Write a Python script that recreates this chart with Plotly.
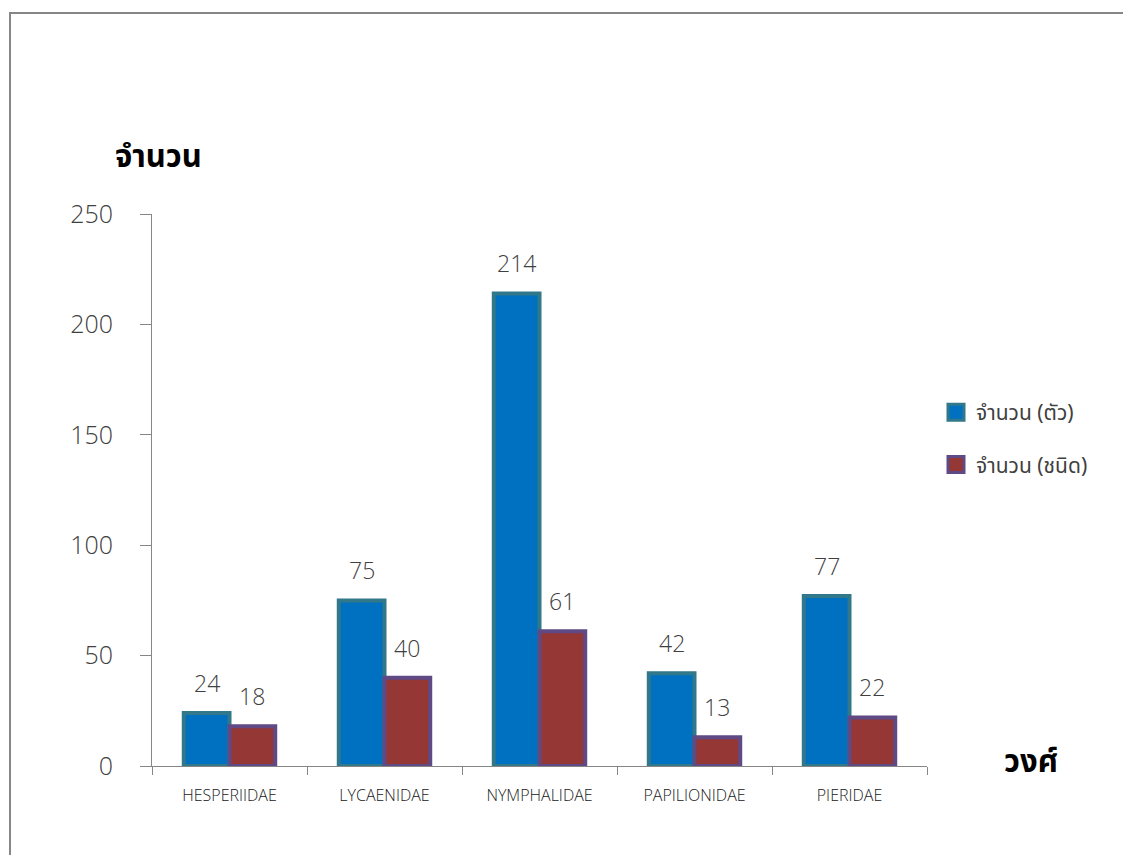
import plotly.graph_objects as go

categories = ["HESPERIIDAE", "LYCAENIDAE", "NYMPHALIDAE", "PAPILIONIDAE", "PIERIDAE"]
count_individuals = [24, 75, 214, 42, 77]
count_species = [18, 40, 61, 13, 22]
series_names = ["จำนวน (ตัว)", "จำนวน (ชนิด)"]
y_ticks = [0, 50, 100, 150, 200, 250]

# page offset from default body margin
OFF = 8
W, H = 1131 - OFF, 855 - OFF
L, R, T, B = 152 - OFF, 204, 214 - OFF, 89
plot_w = W - L - R
plot_h = H - T - B


def px_x(page_x):
    return (page_x - OFF - L) / plot_w


def px_y(page_y):
    return (H - B - (page_y - OFF)) / plot_h


num_font = "Open Sans, DejaVu Sans, sans-serif"
thai_font = "Tahoma, Noto Sans Thai, Loma, Garuda, sans-serif"

fills = ["#0070C0", "#953735"]
edges = ["#31788A", "#5F4A85"]
series_vals = [count_individuals, count_species]

fig = go.Figure()
for i in range(2):
    fig.add_trace(go.Bar(
        x=categories, y=series_vals[i], name=series_names[i],
        marker=dict(color=fills[i], line=dict(color=edges[i], width=4)),
        showlegend=False,
    ))
# legend entries (larger square swatches)
for i in range(2):
    fig.add_trace(go.Scatter(
        x=[None], y=[None], mode="markers", name=series_names[i],
        marker=dict(symbol="square", size=16, color=fills[i], line=dict(color=edges[i], width=3)),
        legendgroup=f"g{i}", showlegend=True,
    ))

bargap = 0.41
bar_px = plot_w / len(categories) * (1 - bargap) / 2
for vals, sign in ((count_individuals, -1), (count_species, 1)):
    for c, v in zip(categories, vals):
        fig.add_annotation(
            x=c, y=v, xref="x", yref="y", text=str(v), showarrow=False,
            xshift=sign * bar_px / 2, yshift=12, yanchor="bottom",
            font=dict(family=num_font, size=23, color="#404040", weight=300),
        )

fig.add_annotation(x=px_x(113), y=px_y(157), xref="paper", yref="paper",
                   text="<b>จำนวน</b>", showarrow=False, xanchor="left", yanchor="middle",
                   font=dict(family=thai_font, size=31, color="#000000"))
fig.add_annotation(x=px_x(1002), y=px_y(762), xref="paper", yref="paper",
                   text="<b>วงศ์</b>", showarrow=False, xanchor="left", yanchor="middle",
                   font=dict(family=thai_font, size=31, color="#000000"))

# outer frame
fig.add_shape(type="rect", xref="paper", yref="paper",
              x0=px_x(10), x1=px_x(1145), y0=px_y(870), y1=px_y(13),
              line=dict(color="#868686", width=2), fillcolor="rgba(0,0,0,0)", layer="below")

fig.update_layout(
    width=W, height=H,
    margin=dict(l=L, r=R, t=T, b=B),
    paper_bgcolor="white", plot_bgcolor="white",
    barmode="group", bargap=bargap, bargroupgap=0,
    showlegend=True,
    legend=dict(x=px_x(936), y=px_y(392), xanchor="left", yanchor="top",
                font=dict(family=thai_font, size=21, color="#404040"),
                tracegroupgap=22, itemwidth=30, itemsizing="trace", bgcolor="rgba(0,0,0,0)"),
    xaxis=dict(type="category", tickson="boundaries", ticks="outside", ticklen=8,
               tickcolor="#868686", showline=True, linecolor="#868686", linewidth=1,
               showgrid=False, tickfont=dict(family=num_font, size=16, color="#202020", weight=300),
               ticklabelstandoff=15),
    yaxis=dict(range=[0, 250], tickvals=y_ticks, ticks="outside", ticklen=11,
               tickcolor="#868686", showline=True, linecolor="#868686", linewidth=1,
               showgrid=False, zeroline=False,
               tickfont=dict(family=num_font, size=25, color="#404040", weight=300),
               ticklabelstandoff=22),
)

fig.write_html("out.html")
